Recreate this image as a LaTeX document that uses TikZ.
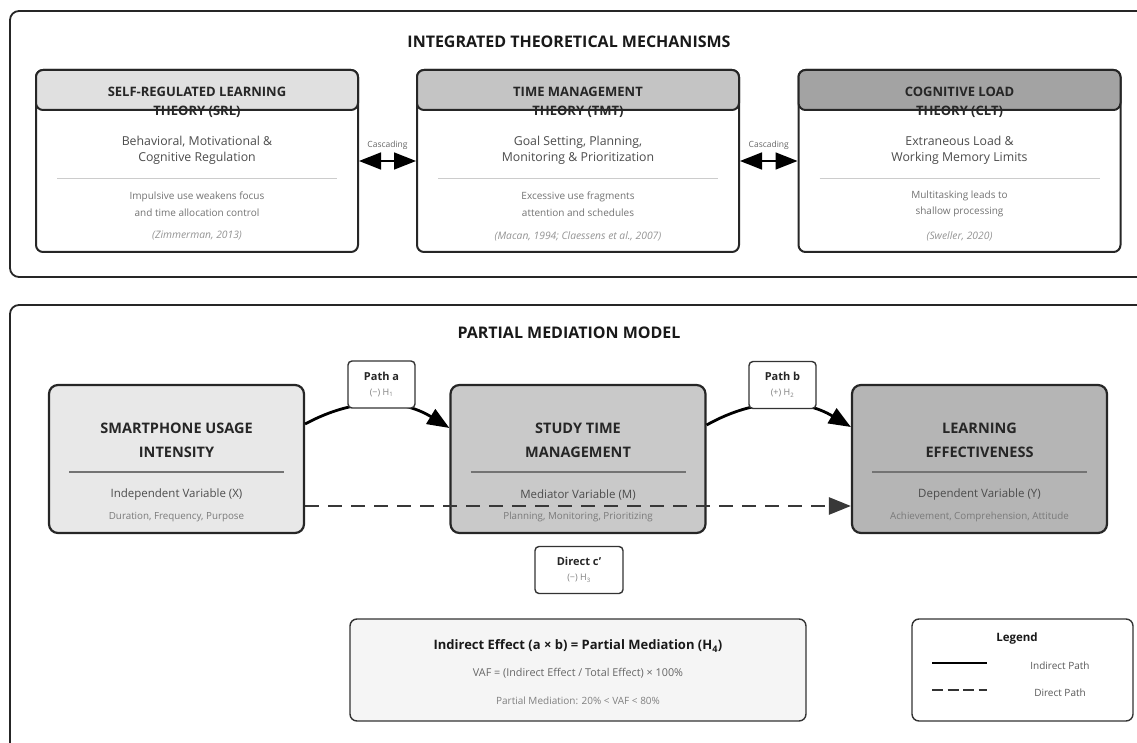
\documentclass[tikz,border=0pt]{standalone}
\usepackage{fontspec}
\setmainfont{Open Sans}
\usetikzlibrary{arrows.meta}
\newcommand{\theorybox}[7]{%
  \node[theory] (#1) at (#2,161) {};
  \node[header, fill=#3] (#1h) at (#2,90) {};
  \node[headtext] (#1t) at (#2,102) {#4};
  \node[bodytext] (#1b) at (#2,150) {#5};
  \draw[softrule] (#2-140,178) -- (#2+140,178);
  \node[detailtext] (#1d) at (#2,204) {#6};
  \node[citetext] (#1c) at (#2,236) {#7}}
\newcommand{\varbox}[6]{%
  \node[varnode, fill=#3] (#1) at (#2,459) {};
  \node[vartitle] (#1t) at (#2,440) {#4};
  \draw[varrule] (#2-107.5,472) -- (#2+107.5,472);
  \node[varrole] (#1r) at (#2,495) {#5};
  \node[varitems] (#1i) at (#2,517) {#6}}
\newcommand{\hyp}[1]{{\fontsize{9}{10}\selectfont\mdseries\color{black!50}#1}}

\begin{document}
\begin{tikzpicture}[x=1pt,y=-1pt,
    bighead/.tip={Triangle[length=22pt,width=17pt]},
    frame/.style={draw=black!85,line width=1.8pt,rounded corners=9pt},
    paneltitle/.style={font=\fontsize{16}{18}\selectfont\bfseries,text=black!90},
    theory/.style={draw=black!85,fill=white,line width=2pt,rounded corners=7pt,
                   minimum width=322pt,minimum height=182pt},
    header/.style={draw=black!85,line width=2pt,rounded corners=7pt,
                   minimum width=322pt,minimum height=40pt},
    headtext/.style={font=\fontsize{13}{19}\selectfont\bfseries,text=black!85,align=center},
    bodytext/.style={font=\fontsize{12.3}{16}\selectfont,text=black!70,align=center},
    detailtext/.style={font=\fontsize{10}{16.5}\selectfont,text=black!55,align=center},
    citetext/.style={font=\fontsize{10.3}{12}\selectfont\itshape,text=black!42},
    softrule/.style={draw=black!20,line width=0.8pt},
    cascade/.style={bighead-bighead,draw=black,line width=1.6pt},
    cascadelabel/.style={above=11pt,inner sep=0pt,font=\fontsize{8.5}{9}\selectfont,text=black!60},
    varnode/.style={draw=black!85,line width=2.2pt,rounded corners=9pt,
                    minimum width=255pt,minimum height=148pt},
    vartitle/.style={font=\fontsize{14.5}{24}\selectfont\bfseries,text=black!85,align=center},
    varrule/.style={draw=black!55,line width=1.2pt},
    varrole/.style={font=\fontsize{11.5}{13}\selectfont,text=black!70},
    varitems/.style={font=\fontsize{9.8}{11}\selectfont,text=black!52},
    indirect/.style={-bighead,draw=black,line width=2.8pt},
    direct/.style={-bighead,draw=black!78,line width=2.7pt,dash pattern=on 14pt off 9pt},
    pathlabel/.style={draw=black!80,fill=white,line width=1.4pt,rounded corners=4pt,
                      minimum width=67pt,minimum height=47pt,align=center,
                      font=\fontsize{11}{12}\selectfont\bfseries,text=black!85},
    summary/.style={draw=black!80,line width=1.4pt,rounded corners=7pt},
    sumtitle/.style={font=\fontsize{13}{15}\selectfont\bfseries,text=black!90},
    sumtext/.style={font=\fontsize{10.8}{12}\selectfont,text=black!60},
    sumnote/.style={font=\fontsize{10}{11}\selectfont,text=black!50},
    legendtext/.style={font=\fontsize{10}{11}\selectfont,text=black!65}
  ]
  \useasboundingbox (0,0) rectangle (1137,743);
  \clip (0,0) rectangle (1137,743);

  % Panel 1: theories behind the model
  \draw[frame] (10,11) rectangle (1165,277);
  \node[paneltitle] (toptitle) at (569,42) {INTEGRATED THEORETICAL MECHANISMS};

  \theorybox{srl}{197}{black!12}{SELF-REGULATED LEARNING\\THEORY (SRL)}
    {Behavioral, Motivational \&\\Cognitive Regulation}
    {Impulsive use weakens focus\\and time allocation control}
    {(Zimmerman, 2013)};
  \theorybox{tmt}{578}{black!23}{TIME MANAGEMENT\\THEORY (TMT)}
    {Goal Setting, Planning,\\Monitoring \& Prioritization}
    {Excessive use fragments\\attention and schedules}
    {(Macan, 1994; Claessens et al., 2007)};
  \theorybox{clt}{959.5}{black!36}{COGNITIVE LOAD\\THEORY (CLT)}
    {Extraneous Load \&\\Working Memory Limits}
    {Multitasking leads to\\shallow processing}
    {(Sweller, 2020)};

  % links between the theories
  \draw[cascade] (srl.east) -- node[cascadelabel] {Cascading} (tmt.west);
  \draw[cascade] (tmt.east) -- node[cascadelabel] {Cascading} (clt.west);

  % Panel 2: the mediation model
  \draw[frame] (10,305) rectangle (1165,775);
  \node[paneltitle] (bottomtitle) at (569,333) {PARTIAL MEDIATION MODEL};

  \varbox{sui}{176.5}{black!9}{SMARTPHONE USAGE\\INTENSITY}
    {Independent Variable (X)}{Duration, Frequency, Purpose};
  \varbox{stm}{578}{black!21}{STUDY TIME\\MANAGEMENT}
    {Mediator Variable (M)}{Planning, Monitoring, Prioritizing};
  \varbox{le}{979.5}{black!29}{LEARNING\\EFFECTIVENESS}
    {Dependent Variable (Y)}{Achievement, Comprehension, Attitude};

  % indirect paths a and b
  \draw[indirect] ([yshift=35pt]sui.east) to[bend left=30] ([yshift=31pt]stm.west);
  \draw[indirect] ([yshift=34pt]stm.east) to[bend left=30] ([yshift=32pt]le.west);
  \node[pathlabel] (pa) at (381.5,384.5) {Path a\\[3pt]\hyp{(−) H\textsubscript{1}}};
  \node[pathlabel] (pb) at (782.5,385) {Path b\\[3pt]\hyp{(+) H\textsubscript{2}}};

  % direct path c'
  \draw[direct] ([yshift=-47pt]sui.east) -- ([yshift=-47pt]le.west);
  \node[pathlabel, minimum width=88pt] (pc) at (579,570) {Direct c’\\[3pt]\hyp{(−) H\textsubscript{3}}};

  % summary of the mediation test
  \node[summary, fill=black!4, minimum width=456pt, minimum height=102pt] (ind) at (578,670) {};
  \node[sumtitle] (indt) at (578,646) {Indirect Effect (a × b) = Partial Mediation (H\textsubscript{4})};
  \node[sumtext] (indv) at (578,673) {VAF = (Indirect Effect / Total Effect) × 100\%};
  \node[sumnote] (indn) at (578,701) {Partial Mediation: 20\% < VAF < 80\%};

  % legend
  \node[summary, fill=white, minimum width=221pt, minimum height=102pt] (leg) at (1022.5,670) {};
  \node[sumtitle, font=\fontsize{11.5}{13}\selectfont\bfseries] (legt) at (1017,639) {Legend};
  \coordinate (s1) at (932,663);
  \coordinate (s2) at (987,663);
  \coordinate (d1) at (932,690);
  \coordinate (d2) at (987,690);
  \draw[draw=black,line width=2.6pt] (s1) -- (s2);
  \draw[draw=black!80,line width=2.8pt,dash pattern=on 11pt off 4.5pt] (d1) -- (d2);
  \node[legendtext] (legi) at (1060,666) {Indirect Path};
  \node[legendtext] (legd) at (1060,693) {Direct Path};
\end{tikzpicture}
\end{document}
